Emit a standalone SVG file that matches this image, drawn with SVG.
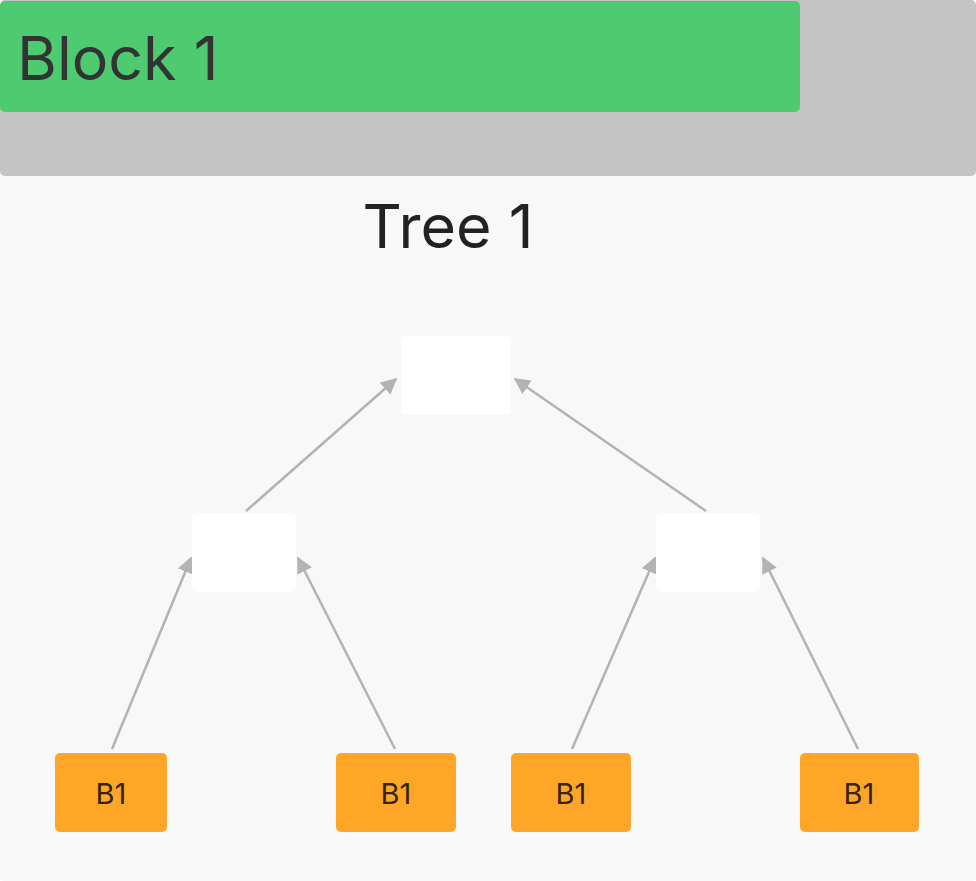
<svg xmlns="http://www.w3.org/2000/svg" width="976" height="881" viewBox="0 0 976 881">
<style>
.t{font-family:Inter,"Noto Sans","Liberation Sans",sans-serif}
.inner{fill:#ffffff}
.leaf{fill:#ffa629}
.leaf-t{font-size:29px;fill:#33240a;text-anchor:middle}
.edge{stroke:#b3b3b3;stroke-width:2.5;fill:none;marker-end:url(#ah)}
</style>
<defs>
<marker id="ah" viewBox="0 0 10 10" refX="9" refY="5" markerWidth="6.5" markerHeight="6.5" markerUnits="strokeWidth" orient="auto">
<path d="M0,0 L10,5 L0,10 z" fill="#b3b3b3"/>
</marker>
</defs>
<g id="background">
<rect x="0" y="170" width="976" height="711" rx="5" fill="#f8f8f8"/>
<rect x="0" y="0" width="976" height="176" rx="5" fill="#c4c4c4"/>
</g>
<g id="block1">
<rect x="0" y="1" width="800" height="111" rx="5" fill="#4ecb71"/>
<text class="t" x="17" y="80" font-size="61" fill="#333333">Block 1</text>
</g>
<g id="tree-title">
<text class="t" x="448" y="248" font-size="61" fill="#222222" text-anchor="middle">Tree 1</text>
</g>
<g id="connectors">
<line class="edge" x1="246" y1="511" x2="396" y2="379"/>
<line class="edge" x1="706" y1="511" x2="515" y2="379"/>
<line class="edge" x1="112" y1="749" x2="191" y2="558"/>
<line class="edge" x1="395" y1="749" x2="298" y2="558"/>
<line class="edge" x1="572" y1="749" x2="655" y2="558"/>
<line class="edge" x1="858" y1="749" x2="763" y2="558"/>
</g>
<g id="root"><rect class="inner" x="401" y="336" width="110" height="79" rx="5"/></g>
<g id="mid-left"><rect class="inner" x="192" y="513" width="104" height="79" rx="5"/></g>
<g id="mid-right"><rect class="inner" x="656" y="513" width="104" height="79" rx="5"/></g>
<g id="leaf1"><rect class="leaf" x="55" y="753" width="112" height="79" rx="5"/><text class="t leaf-t" x="111" y="804">B1</text></g>
<g id="leaf2"><rect class="leaf" x="336" y="753" width="120" height="79" rx="5"/><text class="t leaf-t" x="396" y="804">B1</text></g>
<g id="leaf3"><rect class="leaf" x="511" y="753" width="120" height="79" rx="5"/><text class="t leaf-t" x="571" y="804">B1</text></g>
<g id="leaf4"><rect class="leaf" x="800" y="753" width="119" height="79" rx="5"/><text class="t leaf-t" x="859" y="804">B1</text></g>
</svg>
